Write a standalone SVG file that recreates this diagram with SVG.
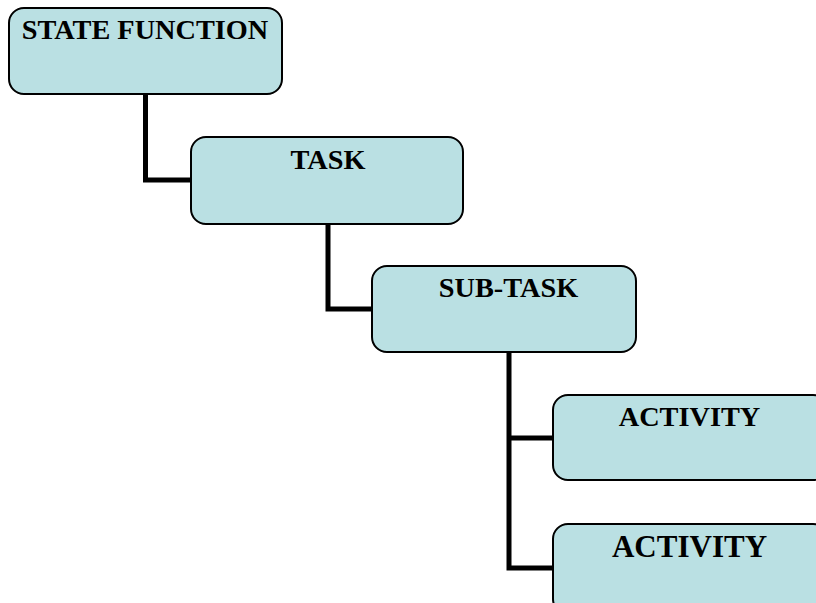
<svg xmlns="http://www.w3.org/2000/svg" width="816" height="603" viewBox="0 0 816 603">
<style>
.box{fill:#BAE0E3;stroke:#000;stroke-width:2}
.lbl{font-family:"Liberation Serif","Times New Roman",serif;font-weight:bold;font-size:28.3px;fill:#000;text-anchor:middle}
.con{fill:none;stroke:#000;stroke-width:5}
</style>
<rect x="0" y="0" width="816" height="603" fill="#fff"/>
<g id="connectors">
<polyline class="con" points="145.5,94 145.5,180 191,180"/>
<polyline class="con" points="328,224 328,309 372,309"/>
<polyline class="con" points="509,352 509,568 553,568"/>
<line class="con" x1="509" y1="438" x2="553" y2="438"/>
</g>
<g id="state-function">
<rect class="box" x="9" y="8" width="273" height="86" rx="15"/>
<text class="lbl" x="145" y="39">STATE FUNCTION</text>
</g>
<g id="task">
<rect class="box" x="191" y="137" width="272" height="87" rx="15"/>
<text class="lbl" x="328" y="169">TASK</text>
</g>
<g id="sub-task">
<rect class="box" x="372" y="266" width="264" height="86" rx="15"/>
<text class="lbl" x="508.5" y="297">SUB-TASK</text>
</g>
<g id="activity-1">
<rect class="box" x="553" y="395" width="275" height="85" rx="15"/>
<text class="lbl" x="689.5" y="426">ACTIVITY</text>
</g>
<g id="activity-2">
<rect class="box" x="553" y="524" width="275" height="90" rx="15"/>
<text class="lbl" x="689.5" y="557" style="font-size:31px">ACTIVITY</text>
</g>
</svg>
